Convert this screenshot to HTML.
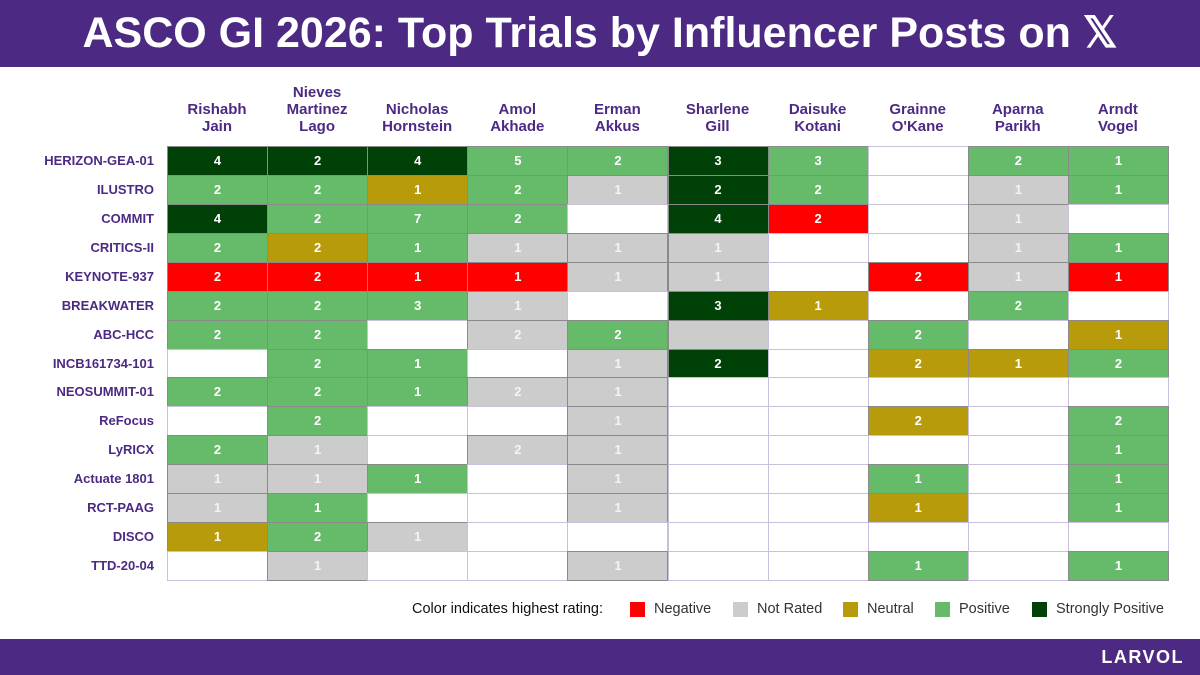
<!DOCTYPE html>
<html><head><meta charset="utf-8"><style>
body{margin:0;width:1200px;height:675px;overflow:hidden;background:#fff;font-family:"Liberation Sans",sans-serif;position:relative}
#hdr{position:absolute;left:0;top:0;width:1200px;height:67px;background:#4c2a83;color:#fff;font-weight:bold;font-size:43px;text-align:center;line-height:67px}
#ftr{position:absolute;left:0;top:639px;width:1200px;height:36px;background:#4c2a83}
#ftr span{position:absolute;right:16px;top:8px;color:#fff;font-weight:bold;font-size:18px;letter-spacing:1.5px}
.col{position:absolute;width:100px;text-align:center;color:#4c2a83;font-weight:bold;font-size:15px;line-height:17px}
.row{position:absolute;left:0;width:154px;text-align:right;color:#4c2a83;font-weight:bold;font-size:13px;line-height:29px}
.cell{position:absolute;box-sizing:border-box;border:1px solid #c9c0de;text-align:center;color:#fff;font-weight:bold;font-size:13px;line-height:27px}
#legend{position:absolute;top:600px;left:0;width:1200px;height:22px;font-size:14.5px;color:#333;white-space:nowrap}
#legend span{position:absolute;top:1px}
#legend .sw{width:15px;height:15px;top:2px}
</style></head><body>
<div id="hdr">ASCO GI 2026: Top Trials by Influencer Posts on 𝕏</div>
<div id="grid"></div>
<div id="legend">
<span style="left:412px;color:#111">Color indicates highest rating:</span>
<span class="sw" style="left:630px;background:#ff0000"></span><span style="left:654px">Negative</span>
<span class="sw" style="left:733px;background:#cccccc"></span><span style="left:757px">Not Rated</span>
<span class="sw" style="left:843px;background:#b89b0b"></span><span style="left:867px">Neutral</span>
<span class="sw" style="left:935px;background:#66bb6a"></span><span style="left:959px">Positive</span>
<span class="sw" style="left:1032px;background:#004108"></span><span style="left:1056px">Strongly Positive</span>
</div>
<div id="ftr"><span>LARVOL</span></div>
<script>
const columns=["Rishabh\nJain","Nieves\nMartinez\nLago","Nicholas\nHornstein","Amol\nAkhade","Erman\nAkkus","Sharlene\nGill","Daisuke\nKotani","Grainne\nO'Kane","Aparna\nParikh","Arndt\nVogel"];
const trials=["HERIZON-GEA-01","ILUSTRO","COMMIT","CRITICS-II","KEYNOTE-937","BREAKWATER","ABC-HCC","INCB161734-101","NEOSUMMIT-01","ReFocus","LyRICX","Actuate 1801","RCT-PAAG","DISCO","TTD-20-04"];
const ratings=[
"S S S P P S P _ P P","P P N P G S P _ G P","S P P P _ S R _ G _","P N P G G G _ _ G P","R R R R G G _ R G R",
"P P P G _ S N _ P _","P P _ G P G _ P _ N","_ P P _ G S _ N N P","P P P G G _ _ _ _ _","_ P _ _ G _ _ N _ P",
"P G _ G G _ _ _ _ P","G G P _ G _ _ P _ P","G P _ _ G _ _ N _ P","N P G _ _ _ _ _ _ _","_ G _ _ G _ _ P _ P"];
const counts=[
[4,2,4,5,2,3,3,0,2,1],[2,2,1,2,1,2,2,0,1,1],[4,2,7,2,0,4,2,0,1,0],[2,2,1,1,1,1,0,0,1,1],[2,2,1,1,1,1,0,2,1,1],
[2,2,3,1,0,3,1,0,2,0],[2,2,0,2,2,0,0,2,0,1],[0,2,1,0,1,2,0,2,1,2],[2,2,1,2,1,0,0,0,0,0],[0,2,0,0,1,0,0,2,0,2],
[2,1,0,2,1,0,0,0,0,1],[1,1,1,0,1,0,0,1,0,1],[1,1,0,0,1,0,0,1,0,1],[1,2,1,0,0,0,0,0,0,0],[0,1,0,0,1,0,0,1,0,1]];
const colors={S:"#004108",P:"#66bb6a",N:"#b89b0b",R:"#ff0000",G:"#cccccc",_:"#ffffff"};
const X0=167,Y0=146,CW=100.1,RH=28.93;
const xs=i=>X0+i*CW, ys=j=>Y0+j*RH;
const g=document.getElementById('grid');
columns.forEach((c,i)=>{const d=document.createElement('div');d.className='col';


const n=c.split('\n').length;d.style.left=xs(i)+'px';d.style.top=(135-n*17)+'px';d.innerHTML=c.replace(/\n/g,'<br>');g.appendChild(d);});
trials.forEach((t,j)=>{const d=document.createElement('div');d.className='row';


d.style.top=ys(j)+'px';d.textContent=t;g.appendChild(d);
ratings[j].split(' ').forEach((r,i)=>{const c=document.createElement('div');c.className='cell';


c.style.left=xs(i)+'px';c.style.top=ys(j)+'px';c.style.width=(CW+1)+'px';c.style.height=(RH+1)+'px';
c.style.background=colors[r];if(r!='_')c.style.borderColor='#8a8a8a';
if(r=='G')c.style.color='#f4f4f4';
c.textContent=(r!='_'&&counts[j][i])?counts[j][i]:'';g.appendChild(c);});});
</script>
</body></html>
